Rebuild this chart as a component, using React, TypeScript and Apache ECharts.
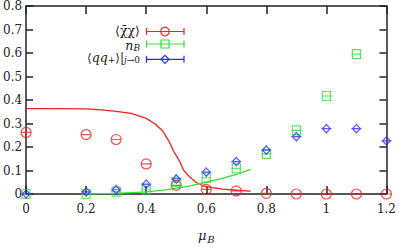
import React, { useEffect, useRef } from 'react';
import * as echarts from 'echarts';

// Data points
const muB = [0, 0.2, 0.3, 0.4, 0.5, 0.6, 0.7, 0.8, 0.9, 1.0, 1.1, 1.2];
const chiralCond = [0.262, 0.253, 0.232, 0.128, 0.037, 0.02, 0.013, 0.003, 0, 0, 0, 0];
const muBnB = [0, 0.2, 0.3, 0.4, 0.5, 0.6, 0.7, 0.8, 0.9, 1.0, 1.1];
const baryonDensity = [0, 0, 0.01, 0.02, 0.05, 0.069, 0.109, 0.171, 0.271, 0.417, 0.595];
const diquarkCond = [0, 0.009, 0.018, 0.042, 0.064, 0.093, 0.138, 0.187, 0.244, 0.278, 0.278, 0.226];

// Curves
const redCurveX = [0, 0.1, 0.2, 0.25, 0.3, 0.35, 0.4, 0.43, 0.455, 0.477, 0.49, 0.51, 0.525, 0.545, 0.565, 0.59, 0.62, 0.655, 0.7, 0.748];
const redCurveY = [0.363, 0.363, 0.362, 0.358, 0.352, 0.343, 0.322, 0.298, 0.268, 0.222, 0.185, 0.142, 0.1, 0.072, 0.05, 0.035, 0.027, 0.021, 0.016, 0.012];
const greenCurveX = [0.2, 0.3, 0.4, 0.45, 0.5, 0.55, 0.6, 0.65, 0.7, 0.748];
const greenCurveY = [0.001, 0.003, 0.009, 0.015, 0.024, 0.036, 0.05, 0.065, 0.083, 0.105];

const RED = '#f42020';
const GREEN = '#33e033';
const BLUE = '#2a2aff';
const FONT = 'DejaVu Serif';
const INK = '#222';

const circleSym = 'path://M0,5A5,5 0 1 1 10,5A5,5 0 1 1 0,5ZM0,5L10,5';
const squareSym = 'path://M1,1L9,1L9,9L1,9ZM0,5L10,5';
const diamondSym = 'path://M5,1L9,5L5,9L1,5ZM0,5L10,5M5,0L5,1M5,9L5,10';

const zip = (xs: number[], ys: number[]) => xs.map((x, i) => [x, ys[i]]);

const richLegend = {
  b: { fontFamily: FONT, fontSize: 12.5, lineHeight: 12, fill: INK },
  n: { fontFamily: FONT, fontSize: 12, lineHeight: 12, fill: INK },
  i: { fontFamily: FONT, fontSize: 12.5, lineHeight: 12, fontStyle: 'italic', fill: INK },
  s: { fontFamily: FONT, fontSize: 9, lineHeight: 8, fill: INK, padding: [5, 0, 0, 0] },
  si: { fontFamily: FONT, fontSize: 9, lineHeight: 8, fontStyle: 'italic', fill: INK, padding: [5, 0, 0, 0] },
};

function legendEntry(lineY: number, textY: number, color: string, label: string, marker: any) {
  return [
    {
      type: 'text',
      x: 140,
      y: textY,
      style: {
        text: label,
        align: 'right',
        verticalAlign: 'middle',
        fill: INK,
        fontFamily: FONT,
        fontSize: 12,
        rich: richLegend,
      },
    },
    { type: 'line', shape: { x1: 146.5, y1: lineY, x2: 184, y2: lineY }, style: { stroke: color, lineWidth: 1.2 } },
    { type: 'line', shape: { x1: 146.5, y1: lineY - 3.5, x2: 146.5, y2: lineY + 3.5 }, style: { stroke: color, lineWidth: 1.2 } },
    { type: 'line', shape: { x1: 184, y1: lineY - 3.5, x2: 184, y2: lineY + 3.5 }, style: { stroke: color, lineWidth: 1.2 } },
    marker,
  ];
}

export default function App() {
  const ref = useRef<HTMLDivElement>(null);
  useEffect(() => {
    const chart = echarts.init(ref.current!, null, { renderer: 'svg' });
    const axisLine = { show: true, onZero: false, lineStyle: { color: INK, width: 1.5 } };
    const axisTick = { show: true, inside: true, length: 8, lineStyle: { color: INK, width: 1.5 } };
    const labelStyle = { fontFamily: FONT, fontSize: 12, color: INK };
    const scatterCommon = {
      type: 'scatter',
      clip: false,
      z: 5,
    };
    chart.setOption({
      animation: false,
      grid: { left: 26, right: 10, top: 6, bottom: 44 },
      xAxis: [
        {
          type: 'value',
          min: 0,
          max: 1.2,
          interval: 0.2,
          position: 'bottom',
          axisLine,
          axisTick,
          splitLine: { show: false },
          axisLabel: { ...labelStyle, margin: 9 },
          name: '{i|μ}{s|B}',
          nameLocation: 'middle',
          nameGap: 34,
          nameTextStyle: {
            rich: {
              i: { fontFamily: FONT, fontSize: 13, lineHeight: 15, fontStyle: 'italic', color: INK },
              s: { fontFamily: FONT, fontSize: 10, lineHeight: 11, fontStyle: 'italic', color: INK, padding: [7, 0, 0, 1] },
            },
          },
        },
        {
          type: 'value',
          min: 0,
          max: 1.2,
          interval: 0.2,
          position: 'top',
          axisLine,
          axisTick,
          splitLine: { show: false },
          axisLabel: { show: false },
        },
      ],
      yAxis: [
        {
          type: 'value',
          min: 0,
          max: 0.8,
          interval: 0.1,
          position: 'left',
          axisLine,
          axisTick: { ...axisTick, length: 7 },
          splitLine: { show: false },
          axisLabel: { ...labelStyle, margin: 4 },
        },
        {
          type: 'value',
          min: 0,
          max: 0.8,
          interval: 0.1,
          position: 'right',
          axisLine,
          axisTick: { ...axisTick, length: 7 },
          splitLine: { show: false },
          axisLabel: { show: false },
        },
      ],
      series: [
        {
          type: 'line',
          data: zip(redCurveX, redCurveY),
          showSymbol: false,
          lineStyle: { color: RED, width: 1.3 },
          z: 3,
        },
        {
          type: 'line',
          data: zip(greenCurveX, greenCurveY),
          showSymbol: false,
          lineStyle: { color: GREEN, width: 1.3 },
          z: 3,
        },
        {
          ...scatterCommon,
          data: zip(muB, chiralCond),
          symbol: circleSym,
          symbolSize: [10, 10],
          itemStyle: { color: 'transparent', borderColor: RED, borderWidth: 1.2 },
        },
        {
          ...scatterCommon,
          data: zip(muBnB, baryonDensity),
          symbol: squareSym,
          symbolSize: [10, 9],
          itemStyle: { color: 'transparent', borderColor: GREEN, borderWidth: 1.2 },
        },
        {
          ...scatterCommon,
          data: zip(muB, diquarkCond),
          symbol: diamondSym,
          symbolSize: [10, 10],
          itemStyle: { color: 'transparent', borderColor: BLUE, borderWidth: 1.2 },
        },
      ],
      graphic: [
        ...legendEntry(31.5, 30.5, RED, '{b|⟨χ̄χ⟩}', {
          type: 'circle',
          shape: { cx: 165, cy: 31.5, r: 4.3 },
          style: { fill: 'transparent', stroke: RED, lineWidth: 1.2 },
        }),
        ...legendEntry(44, 45, GREEN, '{i|n}{si|B}', {
          type: 'rect',
          shape: { x: 161, y: 40, width: 8, height: 8 },
          style: { fill: 'transparent', stroke: GREEN, lineWidth: 1.2 },
        }),
        ...legendEntry(59.3, 57.5, BLUE, '{n|⟨}{i|qq}{s|+}{n|⟩|}{si|j}{s|→0}', {
          type: 'polygon',
          shape: { points: [[165, 55.3], [169, 59.3], [165, 63.3], [161, 59.3]] },
          style: { fill: 'transparent', stroke: BLUE, lineWidth: 1.2 },
        }),
      ],
    });
    return () => chart.dispose();
  }, []);
  return <div ref={ref} style={{ position: 'absolute', left: 0, top: 0, width: 399, height: 249 }} />;
}
